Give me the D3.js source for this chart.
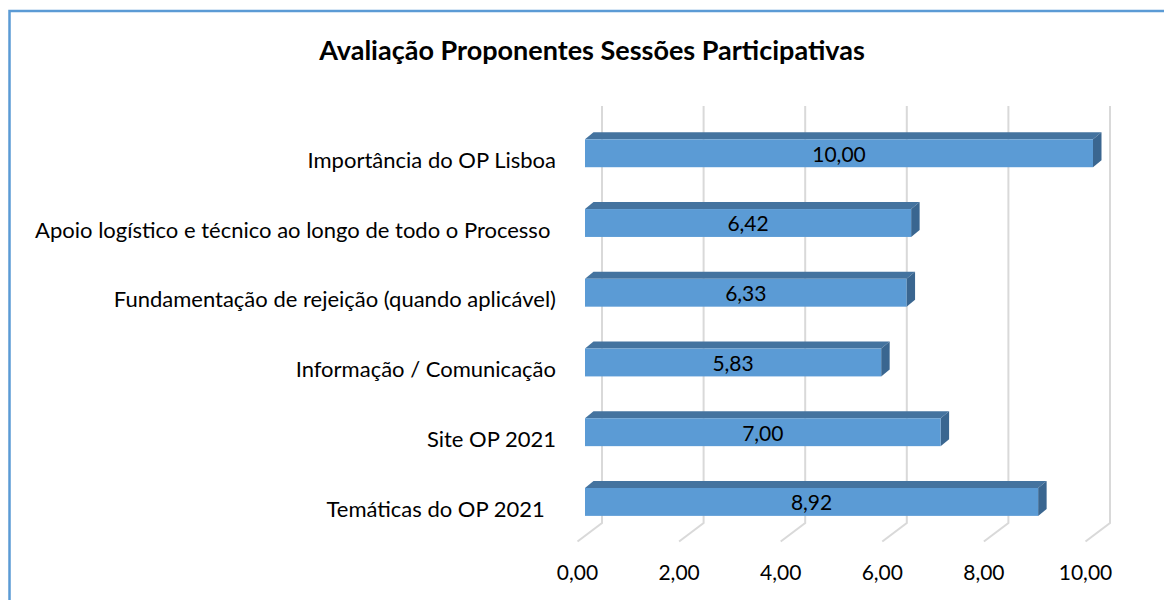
<!DOCTYPE html>
<html>
<head>
<meta charset="utf-8">
<script src="https://cdn.jsdelivr.net/npm/d3@7"></script>
<style>
  body { margin: 0; background: #ffffff; }
  text { font-family: Lato, "Open Sans", sans-serif; white-space: pre; }
</style>
</head>
<body>
<div id="plot"></div>
<script>
var width = 1164;
var height = 600;

// data
var categories = [
    'Importância do OP Lisboa',
    'Apoio logístico e técnico ao longo de todo o Processo ',
    'Fundamentação de rejeição (quando aplicável)',
    'Informação / Comunicação',
    'Site OP 2021',
    'Temáticas do OP 2021  '
];
var values = [10.00, 6.42, 6.33, 5.83, 7.00, 8.92];
var ticks = [0, 2, 4, 6, 8, 10];
var title = 'Avaliação Proponentes Sessões Participativas';

var pt = d3.formatLocale({decimal: ',', thousands: '.', grouping: [3], currency: ['', '€']});
var fmt = pt.format('.2f');

var canvas = d3.select('#plot')
    .append('svg')
    .attr('width', width)
    .attr('height', height);

// frame (only top and left edges show)
canvas.append('path')
    .attr('d', 'M9.5,600 L9.5,11 L1164,11')
    .attr('fill', 'none')
    .attr('stroke', '#5b9bd5')
    .attr('stroke-width', 2.5);

canvas.append('text')
    .attr('x', 592)
    .attr('y', 51)
    .attr('dy', '0.35em')
    .attr('text-anchor', 'middle')
    .attr('font-size', 27)
    .attr('font-weight', 'bold')
    .attr('fill', '#000000')
    .text(title);

// back wall scale
var x = d3.scaleLinear().domain([0, 10]).range([602, 1110]);
var y = d3.scaleBand().domain(categories).range([118.4, 536.8])
    .paddingInner(0.6).paddingOuter(0.3);

var wallTop = 106, wallBottom = 523;
var floorDx = -24.5, floorDy = 18.5;
// bar front face sits part way into the depth
var frontDx = -17, frontDy = 12.8;
var backDx = -8.5, backDy = 5.8;

// gridlines on back wall + floor
var grid = canvas.selectAll('g.grid')
    .data(ticks)
    .enter()
    .append('g')
    .attr('class', 'grid');
grid.append('path')
    .attr('d', function(d) {
        return d3.line()([[x(d), wallTop], [x(d), wallBottom], [x(d) + floorDx, wallBottom + floorDy]]);
    })
    .attr('fill', 'none')
    .attr('stroke', '#d9d9d9')
    .attr('stroke-width', 2);

grid.append('text')
    .attr('x', function(d) { return x(d) + floorDx; })
    .attr('y', 573)
    .attr('dy', '0.35em')
    .attr('text-anchor', 'middle')
    .attr('font-size', 21)
    .attr('fill', '#000000')
    .text(function(d) { return fmt(d); });

// bars
var bars = canvas.selectAll('g.bar')
    .data(categories)
    .enter()
    .append('g')
    .attr('class', 'bar');

function fx(v) { return x(v) + frontDx; }
function bx(v) { return x(v) + backDx; }

// top face
bars.append('path')
    .attr('d', function(d, i) {
        var y0 = y(d);
        var by = y0 - (frontDy - backDy);
        return d3.line()([[fx(0), y0], [fx(values[i]), y0],
                          [bx(values[i]), by], [bx(0), by]]) + 'Z';
    })
    .attr('fill', '#44739f');

// side face
bars.append('path')
    .attr('d', function(d, i) {
        var y0 = y(d), y1 = y(d) + y.bandwidth();
        var dyy = frontDy - backDy;
        return d3.line()([[fx(values[i]), y0], [bx(values[i]), y0 - dyy],
                          [bx(values[i]), y1 - dyy], [fx(values[i]), y1]]) + 'Z';
    })
    .attr('fill', '#3a6690');

// front face
bars.append('rect')
    .attr('x', fx(0))
    .attr('y', function(d) { return y(d); })
    .attr('width', function(d, i) { return fx(values[i]) - fx(0); })
    .attr('height', y.bandwidth())
    .attr('fill', '#5b9bd5');

bars.append('text')
    .attr('x', function(d, i) { return (fx(0) + fx(values[i])) / 2; })
    .attr('y', function(d) { return y(d) + y.bandwidth() / 2 + 1; })
    .attr('dy', '0.35em')
    .attr('text-anchor', 'middle')
    .attr('font-size', 21)
    .attr('fill', '#000000')
    .text(function(d, i) { return fmt(values[i]); });

// category labels
canvas.selectAll('text.cat')
    .data(categories)
    .enter()
    .append('text')
    .attr('class', 'cat')
    .attr('x', 556)
    .attr('y', function(d) { return y(d) + y.bandwidth() / 2 + 7; })
    .attr('dy', '0.35em')
    .attr('text-anchor', 'end')
    .attr('font-size', 22)
    .attr('fill', '#000000')
    .text(function(d) { return d; });
</script>
</body>
</html>
